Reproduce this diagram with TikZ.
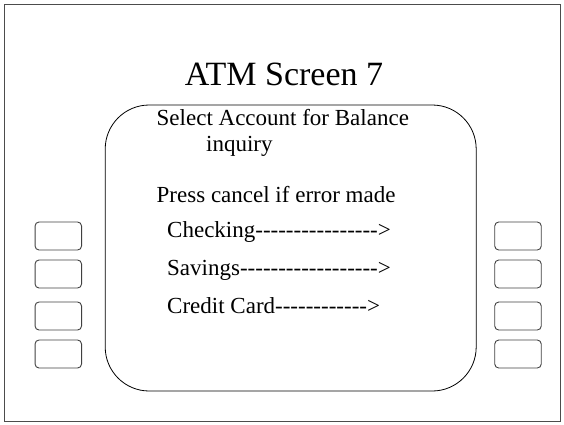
\documentclass[tikz,border=0pt]{standalone}
\usepackage{fontspec}
\setmainfont{Liberation Serif}[Ligatures=TeXOff]
\begin{document}
\begin{tikzpicture}[x=1pt,y=-1pt,
  frame/.style={draw=black!70,line width=0.8pt},
  screenbox/.style={draw=black,line width=0.8pt,rounded corners=44pt,minimum width=371pt,minimum height=286pt,inner sep=0pt},
  keybtn/.style={draw=black!75,line width=0.9pt,rounded corners=4pt,minimum width=46.5pt,minimum height=28pt,inner sep=0pt},
  txt/.style={anchor=base west,inner sep=0pt,font=\fontsize{23}{27}\selectfont},
  ttl/.style={anchor=base,inner sep=0pt,font=\fontsize{34}{39}\selectfont}]
\useasboundingbox (0,0) rectangle (564,424);
\node[frame,minimum width=556pt,minimum height=417pt,inner sep=0pt] (outer) at (282,212.5) {};
\node[ttl] (title) at (284,85) {ATM Screen 7};
\node[screenbox] (screen) at (290.7,248) {};
\node[txt] (l1) at (156.5,125) {Select Account for Balance};
\node[txt] (l2) at (206,151) {inquiry};
\node[txt] (l3) at (156.5,202) {Press cancel if error made};
\node[txt] (l4) at (167,237) {Checking---------------->};
\node[txt] (l5) at (167,275) {Savings------------------>};
\node[txt] (l6) at (167,313) {Credit Card------------>};
\node[keybtn] (b1) at (58.3,236) {};
\node[keybtn] (b2) at (58.3,274) {};
\node[keybtn] (b3) at (58.3,316) {};
\node[keybtn] (b4) at (58.3,354) {};
\node[keybtn] (b5) at (518,236) {};
\node[keybtn] (b6) at (518,274) {};
\node[keybtn] (b7) at (518,316) {};
\node[keybtn] (b8) at (518,354) {};
\end{tikzpicture}
\end{document}
